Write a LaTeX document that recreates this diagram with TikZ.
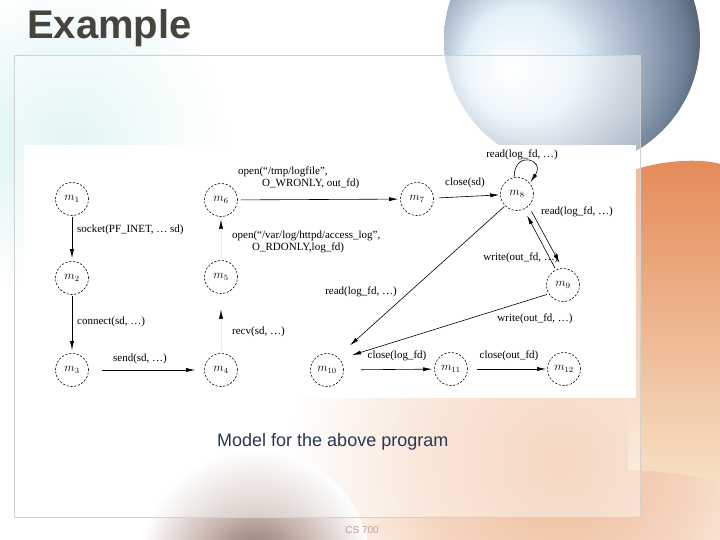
\documentclass[tikz,border=0pt]{standalone}
\usepackage{fontspec}
\setmainfont{Liberation Serif}
\newfontfamily\arialfont{Liberation Sans}
\usetikzlibrary{arrows.meta}
\definecolor{titlec}{RGB}{69,69,61}
\definecolor{capc}{RGB}{40,55,85}
\definecolor{ballB}{RGB}{226,240,248}
\definecolor{ballC}{RGB}{168,183,202}
\definecolor{ballD}{RGB}{112,130,152}
\definecolor{ballE}{RGB}{58,66,80}
\definecolor{ballF}{RGB}{35,38,46}
\definecolor{cyanA}{RGB}{205,238,238}
\definecolor{cyanB}{RGB}{230,247,247}
\definecolor{peachA}{RGB}{238,186,152}
\definecolor{peachB}{RGB}{245,214,192}
\definecolor{brownA}{RGB}{125,108,100}
\definecolor{brownB}{RGB}{200,182,175}
\definecolor{orA}{RGB}{228,138,88}
\definecolor{orB}{RGB}{206,108,62}
\definecolor{orC}{RGB}{246,224,196}
\definecolor{footc}{RGB}{190,160,150}
\pgfdeclareradialshading{ballshade}{\pgfpoint{-13bp}{-6bp}}{color(0bp)=(white); color(11bp)=(ballB); color(19bp)=(ballC); color(27bp)=(ballD); color(33bp)=(ballE); color(37bp)=(ballF); color(45bp)=(ballF)}
\pgfdeclareradialshading{cyanglow}{\pgfpoint{0bp}{0bp}}{color(0bp)=(cyanA); color(11bp)=(cyanB); color(25bp)=(white); color(50bp)=(white)}
\pgfdeclareradialshading{peachglow}{\pgfpoint{0bp}{0bp}}{color(0bp)=(peachA); color(13bp)=(peachB); color(25bp)=(white); color(50bp)=(white)}
\pgfdeclareradialshading{brownglow}{\pgfpoint{0bp}{0bp}}{color(0bp)=(brownA); color(12bp)=(brownB); color(25bp)=(white); color(50bp)=(white)}
\tikzset{
  st/.style={draw, circle, dash pattern=on 2.2pt off 1.6pt, line width=0.55pt,
    minimum size=33pt, inner sep=0pt, font=\fontsize{12}{12}\selectfont},
  arr/.style={-{Latex[length=9pt,width=4pt]}, line width=0.6pt},
  ghost/.style={-{Latex[length=9pt,width=4pt,color=black]}, line width=0.4pt, draw=black!8},
  lab/.style={font=\fontsize{11}{12}\selectfont, inner sep=0pt},
}
\begin{document}
\begin{tikzpicture}[x=1pt,y=-1pt]
\useasboundingbox (0,0) rectangle (720,540);
% background
\fill[white] (0,0) rectangle (720,540);
\shade[shading=cyanglow] (70,140) circle (160pt);
\shade[shading=peachglow] (560,460) circle (270pt);
\shade[shading=brownglow] (255,565) circle (115pt);
\shade[shading=ballshade] (572,40) circle (128pt);
\shade[top color=orA, middle color=orB, bottom color=orC]
  (628,172) .. controls (660,160) and (700,158) .. (720,164) -- (720,482)
  .. controls (690,474) and (650,470) .. (628,470) -- cycle;
% panel
\fill[white, fill opacity=0.42] (14,55) rectangle (640,517);
\draw[black!18, line width=0.6pt] (14,55) rectangle (640,517);
\fill[white] (24,145) rectangle (636,398);
% title, caption, footer
\node[anchor=base west, inner sep=0pt, text=titlec,
  font=\arialfont\bfseries\fontsize{40}{40}\selectfont] (title) at (27,39) {Example};
\node[anchor=base west, inner sep=0pt, text=capc,
  font=\arialfont\fontsize{18}{20}\selectfont] (cap) at (217,446) {Model for the above program};
\node[inner sep=0pt, text=footc, font=\arialfont\fontsize{10}{10}\selectfont] (foot) at (362,530) {CS 700};
% states
\node[st] (m1) at (72,199) {$m_1$};
\node[st] (m2) at (72,278) {$m_2$};
\node[st] (m3) at (72,370) {$m_3$};
\node[st] (m4) at (221,370) {$m_4$};
\node[st] (m5) at (221,277) {$m_5$};
\node[st] (m6) at (221,200) {$m_6$};
\node[st] (m7) at (417,199) {$m_7$};
\node[st] (m8) at (517,194) {$m_8$};
\node[st] (m9) at (563,285) {$m_9$};
\node[st] (m10) at (327,370) {$m_{10}$};
\node[st] (m11) at (451,369) {$m_{11}$};
\node[st] (m12) at (564,369) {$m_{12}$};
% transitions
\draw[arr, shorten <=1pt, shorten >=3pt] (m1) -- (m2);
\draw[arr, shorten <=1pt, shorten >=3pt] (m2) -- (m3);
\draw[arr, shorten <=13pt, shorten >=9pt] (m3) -- (m4);
\draw[ghost, shorten <=2pt, shorten >=16pt] (m4) -- (m5);
\draw[ghost, shorten <=2pt, shorten >=3pt] (m5) -- (m6);
\draw[arr, shorten <=3pt, shorten >=2pt] (m6) -- (m7);
\draw[arr, shorten <=5pt, shorten >=1pt] (m7) -- (m8);
\draw[arr, shorten >=1pt] (m8.100) .. controls +(0,-28) and +(16,-24) .. (m8.40);
\draw[arr, shorten <=6pt, shorten >=6pt] (m8.-46) -- (m9.92);
\draw[arr, shorten <=2pt, shorten >=7pt] (m9.115) -- (m8.-66);
\draw[arr, shorten <=1pt, shorten >=17pt] (m8.-135) -- (m10.52);
\draw[arr, shorten <=2pt, shorten >=13pt] (m9.-148) -- (m10.41);
\draw[arr, shorten <=17pt, shorten >=2pt] (m10) -- (m11);
\draw[arr, shorten <=9pt, shorten >=1pt] (m11) -- (m12);
% labels
\node[lab, anchor=west] (l1) at (77,230) {socket(PF\_INET, \ldots\ sd)};
\node[lab, anchor=west] (l2) at (77,322) {connect(sd, \ldots)};
\node[lab] (l3) at (140,359) {send(sd, \ldots)};
\node[lab, anchor=west] (l4) at (232,332) {recv(sd, \ldots)};
\node[lab, anchor=west, align=left] (l5) at (232,242) {open(“/var/log/httpd/access\_log”,\\\hspace*{20pt}O\_RDONLY,log\_fd)};
\node[lab, anchor=west, align=left] (l6) at (238,178) {open(“/tmp/logfile”,\\\hspace*{24pt}O\_WRONLY, out\_fd)};
\node[lab] (l7) at (465,183) {close(sd)};
\node[lab] (l8) at (522,155) {read(log\_fd, \ldots)};
\node[lab, anchor=west] (l9) at (541,212) {read(log\_fd, \ldots)};
\node[lab] (l10) at (521,258) {write(out\_fd, \ldots)};
\node[lab] (l11) at (361,292) {read(log\_fd, \ldots)};
\node[lab] (l12) at (535,319) {write(out\_fd, \ldots)};
\node[lab] (l13) at (397,356) {close(log\_fd)};
\node[lab] (l14) at (509,356) {close(out\_fd)};
\end{tikzpicture}
\end{document}
